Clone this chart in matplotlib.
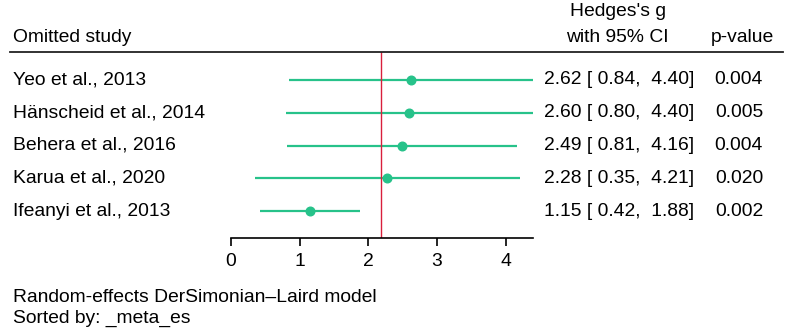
import matplotlib.pyplot as plt
from matplotlib.transforms import blended_transform_factory

plt.rcParams['font.family'] = ['Liberation Sans', 'DejaVu Sans']

# Leave-one-out meta-analysis data
studies = ["Yeo et al., 2013", "Hänscheid et al., 2014", "Behera et al., 2016",
           "Karua et al., 2020", "Ifeanyi et al., 2013"]
es = [2.62, 2.60, 2.49, 2.28, 1.15]
ci_low = [0.84, 0.80, 0.81, 0.35, 0.42]
ci_high = [4.40, 4.40, 4.16, 4.21, 1.88]
pvals = [0.004, 0.005, 0.004, 0.020, 0.002]
overall = 2.19
xticks = [0, 1, 2, 3, 4]

green = "#27C28A"
red = "#D91F3C"
fs = 13.9

W, H = 786, 332
fig = plt.figure(figsize=(W / 100, H / 100), dpi=100)

# plot area in pixels: x 231..533, y 52..238 (from top)
ax = fig.add_axes([231 / W, (H - 238) / H, (533 - 231) / W, (238 - 52) / H])
row_h = 32.75
ax.set_xlim(0, 4.40)
ax.set_ylim((238 - 80) / row_h, (52 - 80) / row_h)

rows = list(range(len(studies)))
for i in rows:
    ax.plot([ci_low[i], ci_high[i]], [i, i], color=green, lw=1.6, solid_capstyle='butt')
ax.plot(es, rows, 'o', color=green, ms=6.2, zorder=3)
ax.axvline(overall, color=red, lw=1.0)

for s in ['top', 'right', 'left']:
    ax.spines[s].set_visible(False)
ax.spines['bottom'].set_linewidth(1.2)
ax.set_yticks([])
ax.set_xticks(xticks)
ax.tick_params(axis='x', length=6, width=1.2, labelsize=fs, pad=5)

# columns of text
tr = blended_transform_factory(fig.transFigure, ax.transData)
for i in rows:
    ax.text(13 / W, i, studies[i], transform=tr, ha='left', va='center', fontsize=fs)
    ax.text(694 / W, i, f"{es[i]:.2f} [{ci_low[i]:5.2f}, {ci_high[i]:5.2f}]",
            transform=tr, ha='right', va='center', fontsize=fs)
    ax.text(763 / W, i, f"{pvals[i]:.3f}", transform=tr, ha='right', va='center', fontsize=fs)

# header
fig.text(13 / W, 1 - 37 / H, "Omitted study", ha='left', va='center', fontsize=fs)
fig.text(618 / W, 1 - 12 / H, "Hedges's g", ha='center', va='center', fontsize=fs)
fig.text(617 / W, 1 - 38 / H, "with 95% CI", ha='center', va='center', fontsize=fs)
fig.text(742 / W, 1 - 38 / H, "p-value", ha='center', va='center', fontsize=fs)
fig.add_artist(plt.Line2D([10 / W, 783 / W], [1 - 52 / H, 1 - 52 / H],
                          color='#222222', lw=1.3))

# footer notes
fig.text(13 / W, 1 - 298 / H, "Random-effects DerSimonian–Laird model",
         ha='left', va='center', fontsize=fs)
fig.text(13 / W, 1 - 318 / H, "Sorted by: _meta_es", ha='left', va='center', fontsize=fs)

fig.savefig("out.png", dpi=100, facecolor='white')
